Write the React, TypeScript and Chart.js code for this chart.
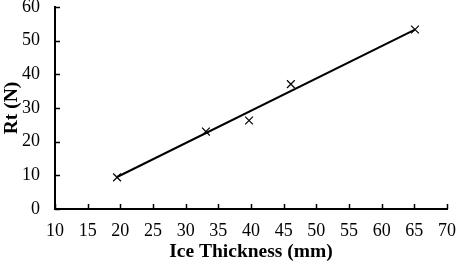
import React, { useEffect, useRef } from "react";
import { Chart, registerables } from "chart.js";

Chart.register(...registerables);

const thicknessMm = [19.5, 33.1, 39.7, 46.1, 65.1];
const rtN = [9.4, 23.0, 26.3, 37.1, 53.3];
const trendX = [19.5, 65.1];
const trendY = [9.5, 53.3];
const xTicks = [10, 15, 20, 25, 30, 35, 40, 45, 50, 55, 60, 65, 70];
const yTicks = [0, 10, 20, 30, 40, 50, 60];

const FONT = "'Liberation Serif', 'Times New Roman', serif";

const innerTicks = {
  id: "innerTicks",
  afterDatasetsDraw(chart: any) {
    const { ctx, chartArea, scales } = chart;
    ctx.save();
    ctx.strokeStyle = "#000";
    ctx.lineWidth = 1.5;
    ctx.beginPath();
    for (const v of xTicks) {
      const px = Math.round(scales.x.getPixelForValue(v)) + 0.5;
      ctx.moveTo(px, chartArea.bottom);
      ctx.lineTo(px, chartArea.bottom - 5);
    }
    for (const v of yTicks) {
      const py = Math.round(scales.y.getPixelForValue(v)) + 0.5;
      ctx.moveTo(chartArea.left, py);
      ctx.lineTo(chartArea.left + 5, py);
    }
    ctx.stroke();
    ctx.restore();
  },
};

export default function App() {
  const ref = useRef<HTMLCanvasElement>(null);
  useEffect(() => {
    if (!ref.current) return;
    const chart = new Chart(ref.current, {
      type: "scatter",
      data: {
        datasets: [
          {
            label: "trend",
            data: trendX.map((x, i) => ({ x, y: trendY[i] })),
            showLine: true,
            borderColor: "#000",
            borderWidth: 2,
            pointRadius: 0,
          },
          {
            label: "Rt",
            data: thicknessMm.map((x, i) => ({ x, y: rtN[i] })),
            pointStyle: "crossRot",
            pointRadius: 5.5,
            borderColor: "#000",
            backgroundColor: "#000",
            pointBorderWidth: 1.2,
            showLine: false,
          },
        ],
      },
      options: {
        animation: false,
        responsive: true,
        maintainAspectRatio: false,
        layout: { padding: { top: 7, right: 10, left: 0, bottom: 0 } },
        plugins: { legend: { display: false }, tooltip: { enabled: false } },
        scales: {
          x: {
            type: "linear",
            min: 10,
            max: 70,
            afterBuildTicks: (s: any) => {
              s.ticks = xTicks.map((v) => ({ value: v }));
            },
            afterFit: (s: any) => {
              s.height = 57;
              s.paddingLeft = 0;
              s.paddingRight = 0;
            },
            border: { display: true, color: "#000", width: 2 },
            grid: { display: false, drawTicks: false },
            ticks: {
              color: "#000",
              padding: 11,
              font: { family: FONT, size: 18 },
            },
            title: {
              display: true,
              text: "Ice Thickness (mm)",
              color: "#000",
              padding: { top: 2, bottom: 2 },
              font: { family: FONT, size: 19.5, weight: "bold" },
            },
          },
          y: {
            type: "linear",
            min: 0,
            max: 60,
            afterBuildTicks: (s: any) => {
              s.ticks = yTicks.map((v) => ({ value: v }));
            },
            afterFit: (s: any) => {
              s.width = 55;
              s.paddingTop = 0;
              s.paddingBottom = 0;
            },
            border: { display: true, color: "#000", width: 2 },
            grid: { display: false, drawTicks: false },
            ticks: {
              color: "#000",
              padding: 15,
              font: { family: FONT, size: 18 },
            },
            title: {
              display: true,
              text: "Rt (N)",
              color: "#000",
              padding: { top: 0, bottom: 0 },
              font: { family: FONT, size: 19.5, weight: "bold" },
            },
          },
        },
      },
      plugins: [innerTicks],
    });
    return () => chart.destroy();
  }, []);
  return (
    <div style={{ position: "fixed", left: 0, top: 0, width: 457, height: 266, background: "#fff" }}>
      <canvas ref={ref} />
    </div>
  );
}
